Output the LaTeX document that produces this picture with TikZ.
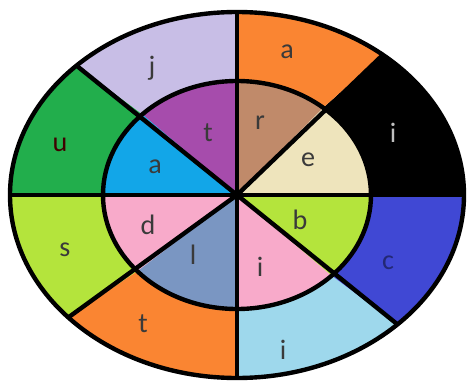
\documentclass[tikz,border=0pt]{standalone}
\usepackage{fontspec}
\newfontfamily\labelfont{Carlito}
\definecolor{ringorange}{HTML}{FA8532}
\definecolor{ringblue}{HTML}{4048D4}
\definecolor{ringsky}{HTML}{9ED8EC}
\definecolor{ringlime}{HTML}{B4E43C}
\definecolor{ringgreen}{HTML}{22AE4C}
\definecolor{ringlilac}{HTML}{C8BEE6}
\definecolor{corebrown}{HTML}{C08A6A}
\definecolor{corecream}{HTML}{EEE4BC}
\definecolor{corepink}{HTML}{F8AACA}
\definecolor{coresteel}{HTML}{7A96C2}
\definecolor{corecyan}{HTML}{12A6E8}
\definecolor{corepurple}{HTML}{A64CAC}
\definecolor{labelgray}{HTML}{3A3A3A}
\begin{document}
\begin{tikzpicture}[x=0.02cm,y=0.02cm,font=\labelfont\fontsize{16}{18}\selectfont,
    letter/.style={text=labelgray,inner sep=0pt}]
  \useasboundingbox (-237,-188) rectangle (234,195);
  % ring and core sectors
  \foreach \from/\to/\ringcol/\corecol in {0/50/black/corecream,50/90/ringorange/corebrown,
      90/135/ringlilac/corepurple,135/180/ringgreen/corecyan,180/222/ringlime/corepink,
      222/270/ringorange/coresteel,270/315/ringsky/corepink,315/360/ringblue/ringlime}{
    \fill[\ringcol] (\from:227 and 183) arc[start angle=\from,end angle=\to,x radius=227,y radius=183]
      -- (\to:134 and 114) arc[start angle=\to,end angle=\from,x radius=134,y radius=114] -- cycle;
    \fill[\corecol] (0,0) -- (\from:134 and 114)
      arc[start angle=\from,end angle=\to,x radius=134,y radius=114] -- cycle;
  }
  % outlines
  \coordinate (centre) at (0,0);
  \foreach \angle in {0,50,90,135,180,222,270,315}{
    \draw[line width=2.5pt] (centre) -- (\angle:227 and 183);
  }
  \draw[line width=2.5pt] (centre) ellipse[x radius=134,y radius=114];
  \draw[line width=2.5pt] (centre) ellipse[x radius=227,y radius=183];
  % outer letters
  \node[letter] (ringa) at (50,143) {a};
  \node[letter,text=black!25] (ringi) at (156,62) {i};
  \node[letter,text=black!45!ringblue] (ringc) at (151,-68) {c};
  \node[letter] (ringii) at (46,-155) {i};
  \node[letter] (ringt) at (-94,-129) {t};
  \node[letter] (rings) at (-172,-55) {s};
  \node[letter,text=red!25!black] (ringu) at (-177,50) {u};
  \node[letter] (ringj) at (-85,127) {j};
  % inner letters
  \node[letter] (corer) at (23,72) {r};
  \node[letter] (coree) at (71,35) {e};
  \node[letter] (coreb) at (63,-25) {b};
  \node[letter] (corei) at (23,-72) {i};
  \node[letter] (corel) at (-44,-60) {l};
  \node[letter] (cored) at (-89,-30) {d};
  \node[letter] (corea) at (-82,28) {a};
  \node[letter] (coret) at (-29,62) {t};
\end{tikzpicture}
\end{document}
